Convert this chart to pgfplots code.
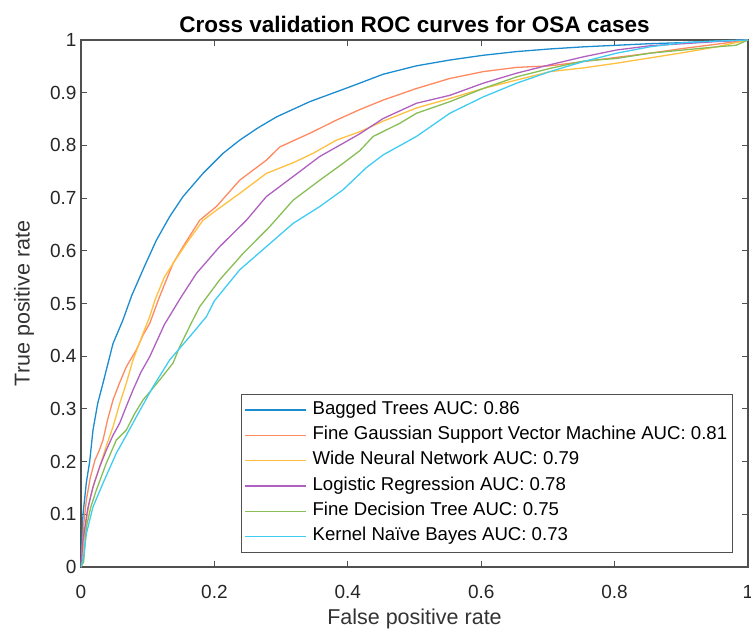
\documentclass[border=0pt]{standalone}
\usepackage{fontspec}
\setmainfont{Liberation Sans}
\usepackage{pgfplots}
\pgfplotsset{compat=1.18}

\definecolor{cBag}{HTML}{1A8CCF}
\definecolor{cSvm}{HTML}{FF8A60}
\definecolor{cNet}{HTML}{FFC040}
\definecolor{cLog}{HTML}{B060C0}
\definecolor{cTree}{HTML}{88BE55}
\definecolor{cBay}{HTML}{40CCF2}
\definecolor{axgray}{HTML}{505050}

\begin{document}
\begin{tikzpicture}
\path[use as bounding box] (-81pt,-64pt) rectangle (670pt,567pt);
\begin{axis}[
  scale only axis,
  width=667pt, height=527pt,
  xmin=0, xmax=1, ymin=0, ymax=1,
  xtick={0,0.2,...,1}, ytick={0,0.1,...,1},
  xticklabels={0,0.2,0.4,0.6,0.8,1},
  yticklabels={0,0.1,0.2,0.3,0.4,0.5,0.6,0.7,0.8,0.9,1},
  tick align=inside,
  major tick length=6pt,
  axis line style={axgray, line width=1.1pt},
  every tick/.style={axgray, line width=1pt},
  /pgf/number format/assume math mode=true,
  tick label style={font=\fontsize{19}{22}\selectfont, text=black!85},
  xticklabel style={yshift=-15pt},
  yticklabel style={xshift=-1pt},
  title={\bfseries Cross validation ROC curves for OSA cases},
  title style={font=\fontsize{22.5}{26}\selectfont, yshift=-2pt},
  xlabel={False positive rate},
  ylabel={True positive rate},
  label style={font=\fontsize{21.5}{25}\selectfont, text=black!80},
  xlabel style={yshift=-3pt},
  ylabel style={yshift=9pt},
  legend cell align=left,
  legend style={
    at={(rel axis cs:0.2399,0.3283)}, anchor=north west,
    draw=axgray, line width=0.8pt,
    font=\fontsize{18.6}{22}\selectfont,
    inner xsep=3pt, inner ysep=3pt,
    nodes={text height=13pt, text depth=4.5pt, inner ysep=3.9pt},
    /tikz/every odd column/.append style={column sep=4pt},
  },
  legend image code/.code={\draw[#1, line width=1.2pt] (0pt,0pt) -- (61pt,0pt);},
  every axis plot/.append style={line width=1.3pt},
]
% Bagged Trees
\addplot[cBag] coordinates {
(0,0)(0.003,0.1)(0.008,0.16)(0.013,0.2)(0.018,0.26)(0.025,0.31)(0.033,0.349)(0.048,0.424)(0.063,0.469)(0.076,0.515)(0.095,0.57)(0.113,0.62)(0.133,0.665)(0.153,0.703)(0.183,0.747)(0.213,0.785)(0.238,0.81)(0.265,0.833)(0.293,0.854)(0.343,0.883)(0.403,0.911)(0.453,0.935)(0.503,0.951)(0.553,0.962)(0.603,0.971)(0.653,0.978)(0.703,0.983)(0.753,0.987)(0.803,0.99)(0.853,0.993)(0.903,0.995)(0.953,0.998)(1,1)};
\addlegendentry{Bagged Trees AUC: 0.86}
% Fine Gaussian SVM
\addplot[cSvm] coordinates {
(0,0)(0.001,0.02)(0.004,0.08)(0.008,0.127)(0.014,0.17)(0.021,0.203)(0.027,0.22)(0.033,0.241)(0.04,0.28)(0.048,0.317)(0.058,0.35)(0.068,0.38)(0.083,0.412)(0.093,0.44)(0.103,0.462)(0.116,0.507)(0.128,0.545)(0.138,0.576)(0.153,0.608)(0.178,0.658)(0.203,0.684)(0.238,0.734)(0.278,0.772)(0.298,0.797)(0.343,0.823)(0.383,0.848)(0.418,0.868)(0.453,0.886)(0.503,0.908)(0.553,0.927)(0.603,0.94)(0.653,0.948)(0.703,0.951)(0.753,0.959)(0.803,0.967)(0.853,0.975)(0.903,0.984)(0.953,0.992)(1,1)};
\addlegendentry{Fine Gaussian Support Vector Machine AUC: 0.81}
% Wide Neural Network
\addplot[cNet] coordinates {
(0,0)(0.003,0.03)(0.007,0.08)(0.013,0.127)(0.02,0.16)(0.028,0.19)(0.038,0.23)(0.048,0.266)(0.058,0.31)(0.068,0.349)(0.078,0.393)(0.093,0.443)(0.103,0.475)(0.111,0.507)(0.125,0.55)(0.138,0.576)(0.158,0.614)(0.183,0.658)(0.203,0.677)(0.238,0.709)(0.278,0.747)(0.318,0.767)(0.348,0.785)(0.383,0.81)(0.418,0.826)(0.453,0.846)(0.503,0.871)(0.553,0.889)(0.603,0.908)(0.653,0.924)(0.703,0.94)(0.753,0.947)(0.803,0.956)(0.853,0.966)(0.903,0.976)(0.953,0.987)(1,1)};
\addlegendentry{Wide Neural Network AUC: 0.79}
% Logistic Regression
\addplot[cLog] coordinates {
(0,0)(0.003,0.051)(0.01,0.11)(0.018,0.152)(0.028,0.19)(0.038,0.222)(0.048,0.25)(0.058,0.273)(0.068,0.305)(0.078,0.336)(0.09,0.37)(0.103,0.399)(0.125,0.46)(0.15,0.512)(0.173,0.557)(0.208,0.608)(0.248,0.658)(0.278,0.703)(0.318,0.741)(0.358,0.779)(0.393,0.804)(0.418,0.822)(0.453,0.851)(0.503,0.88)(0.553,0.895)(0.603,0.918)(0.653,0.937)(0.703,0.953)(0.753,0.968)(0.803,0.981)(0.853,0.989)(0.903,0.993)(0.953,0.997)(1,1)};
\addlegendentry{Logistic Regression AUC: 0.78}
% Fine Decision Tree
\addplot[cTree] coordinates {
(0,0)(0.004,0.01)(0.008,0.076)(0.015,0.115)(0.023,0.146)(0.038,0.197)(0.053,0.241)(0.068,0.26)(0.08,0.29)(0.093,0.317)(0.105,0.335)(0.118,0.355)(0.138,0.387)(0.148,0.418)(0.165,0.462)(0.178,0.494)(0.208,0.545)(0.243,0.595)(0.283,0.646)(0.318,0.696)(0.358,0.734)(0.393,0.766)(0.418,0.79)(0.438,0.817)(0.478,0.842)(0.503,0.861)(0.553,0.883)(0.603,0.908)(0.653,0.93)(0.703,0.946)(0.753,0.96)(0.803,0.965)(0.853,0.975)(0.903,0.981)(0.953,0.987)(0.982,0.99)(1,1)};
\addlegendentry{Fine Decision Tree AUC: 0.75}
% Kernel Naive Bayes
\addplot[cBay] coordinates {
(0,0)(0.004,0.02)(0.008,0.063)(0.018,0.114)(0.033,0.159)(0.053,0.216)(0.068,0.25)(0.083,0.285)(0.108,0.342)(0.133,0.393)(0.163,0.437)(0.188,0.475)(0.2,0.505)(0.238,0.564)(0.278,0.608)(0.318,0.652)(0.358,0.684)(0.393,0.716)(0.403,0.728)(0.428,0.758)(0.453,0.782)(0.503,0.817)(0.553,0.861)(0.603,0.892)(0.653,0.918)(0.703,0.94)(0.753,0.959)(0.803,0.975)(0.853,0.987)(0.903,0.995)(0.953,0.998)(1,1)};
\addlegendentry{Kernel Naïve Bayes AUC: 0.73}
\end{axis}
\end{tikzpicture}
\end{document}
